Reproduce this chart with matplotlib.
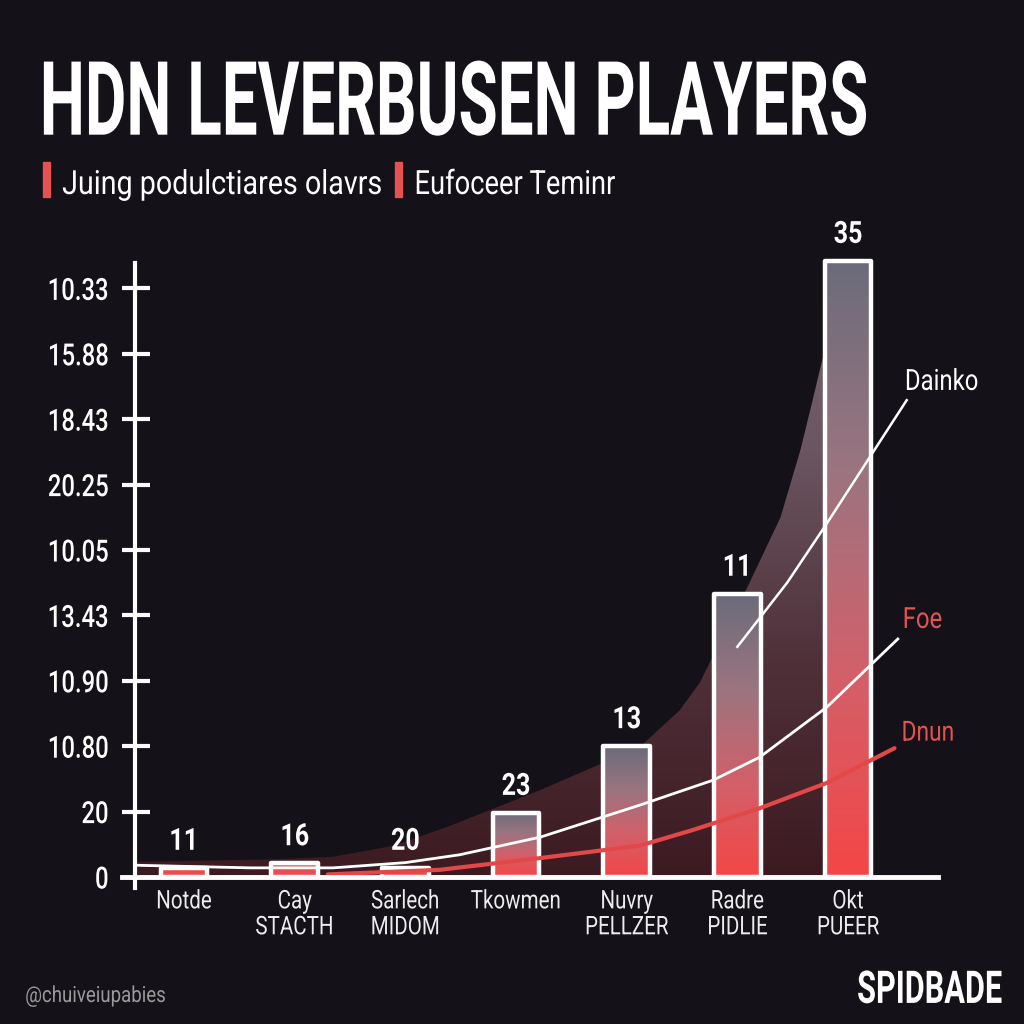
import matplotlib
matplotlib.use("Agg")
import matplotlib.pyplot as plt
import matplotlib.patheffects as pe
from matplotlib.colors import LinearSegmentedColormap
from matplotlib.patches import Rectangle
from matplotlib.transforms import Affine2D
import numpy as np

plt.rcParams['font.family'] = ['Roboto', 'DejaVu Sans']

# --- data ---
title = "HDN LEVERBUSEN PLAYERS"
subtitle_1 = "Juing podulctiares olavrs"
subtitle_2 = "Eufoceer Teminr"
categories = ["Notde", "Cay\nSTACTH", "Sarlech\nMIDOM", "Tkowmen",
              "Nuvry\nPELLZER", "Radre\nPIDLIE", "Okt\nPUEER"]
bar_heights = [0.14, 0.21, 0.14, 0.98, 2.0, 4.33, 9.42]
bar_labels = [11, 16, 20, 23, 13, 11, 35]
ytick_labels = ["0", "20", "10.80", "10.90", "13.43", "10.05",
                "20.25", "18.43", "15.88", "10.33"]

# shaded envelope behind the bars
shade_x = [-0.44, 0.14, 0.8, 1.35, 1.9, 2.4, 3.22, 4.12, 4.48, 4.66, 5.11, 5.39, 5.57, 5.68, 5.81, 6.0]
shade_y = [0.23, 0.25, 0.27, 0.31, 0.48, 0.78, 1.33, 1.99, 2.55, 2.97, 4.5, 5.5, 6.53, 7.29, 8.21, 9.2]

# three curves
foe_x = [-0.44, 0.6, 1.35, 2.0, 2.49, 3.22, 4.12, 4.78, 5.2, 5.81, 6.45]
foe_y = [0.18, 0.14, 0.14, 0.22, 0.34, 0.61, 1.1, 1.48, 1.83, 2.6, 3.64]
dnun_x = [1.3, 2.31, 3.22, 4.12, 4.6, 5.2, 5.81, 6.42]
dnun_y = [0.04, 0.11, 0.29, 0.48, 0.72, 1.05, 1.44, 1.97]
dainko_x = [5.0, 5.45, 5.81, 6.17, 6.53]
dainko_y = [3.52, 4.5, 5.41, 6.35, 7.29]

bg = '#141118'
red = '#e55252'


class Squeeze(pe.AbstractPathEffect):
    # narrows (and optionally stretches) the glyphs of a text line
    def __init__(self, sx=0.8, sy=1.0, anchor='center'):
        super().__init__()
        self.sx = sx
        self.sy = sy
        self.anchor = anchor

    def draw_path(self, renderer, gc, tpath, affine, rgbFace=None):
        ext = affine.transform_path(tpath).get_extents()
        if self.anchor == 'left':
            x0 = ext.x0
        elif self.anchor == 'right':
            x0 = ext.x1
        else:
            x0 = (ext.x0 + ext.x1) / 2
        y0 = ext.y0
        aff = affine + Affine2D().translate(-x0, -y0).scale(self.sx, self.sy).translate(x0, y0)
        renderer.draw_path(gc, tpath, aff, rgbFace)


fig = plt.figure(figsize=(10.24, 10.24), dpi=100, facecolor=bg)
ax = fig.add_axes([122/1024, 1-888/1024, 816/1024, 648/1024])
ax.set_facecolor('none')
xlim = (-0.56, 6.813)
ylim = (-0.168, 9.74)
xpos = np.arange(len(categories))

# shaded area with vertical gradient
shade_cmap = LinearSegmentedColormap.from_list('shade', ['#3d1a21', '#4f3039', '#6a5560', '#7d6b76'])
poly = ax.fill_between(shade_x, shade_y, 0, facecolor='none', edgecolor='none')
im = ax.imshow(np.linspace(0, 1, 256).reshape(-1, 1), extent=[xlim[0], xlim[1], 0, 9.74],
               origin='lower', cmap=shade_cmap, aspect='auto', zorder=1)
im.set_clip_path(poly.get_paths()[0], ax.transData)

# bars: white outline, red->grey gradient inside
bar_cmap = LinearSegmentedColormap.from_list('bar', ['#f44646', '#d2606a', '#9a7580', '#6b6b7b'])
bars = ax.bar(xpos, bar_heights, width=0.42, facecolor='none', edgecolor='white',
              linewidth=3.2, joinstyle='round', zorder=3)
for b, h in zip(bars, bar_heights):
    x0 = b.get_x()
    g = np.linspace(0, min(1.0, h), 256).reshape(-1, 1)
    bi = ax.imshow(g, extent=[x0, x0 + b.get_width(), 0, h], origin='lower',
                   cmap=bar_cmap, vmin=0, vmax=1, aspect='auto', zorder=2)
    bi.set_clip_path(b)

for x, h, lab in zip(xpos, bar_heights, bar_labels):
    ax.annotate(str(lab), (x, h), xytext=(0, 13), textcoords='offset points',
                ha='center', va='baseline', fontsize=22, weight='bold', color='white',
                path_effects=[Squeeze(0.82)])

# curves
ax.plot(foe_x, foe_y, color='white', lw=2, zorder=4)
ax.plot(dnun_x, dnun_y, color='#e34848', lw=3, zorder=4, solid_capstyle='round')
ax.plot(dainko_x, dainko_y, color='white', lw=1.8, zorder=4)
ax.text(6.51, 7.57, "Dainko", color='white', fontsize=21, va='center', ha='left',
        path_effects=[Squeeze(0.82, anchor='left')])
ax.text(6.49, 3.93, "Foe", color=red, fontsize=21, va='center', ha='left',
        path_effects=[Squeeze(0.82, anchor='left')])
ax.text(6.48, 2.2, "Dnun", color=red, fontsize=20, va='center', ha='left',
        path_effects=[Squeeze(0.82, anchor='left')])

# axes lines
ax.plot([xlim[0], xlim[1]], [0, 0], color='white', lw=3.5, zorder=5, clip_on=False)
ax.plot([-0.443, -0.443], [ylim[0], 9.39], color='white', lw=3, zorder=5, clip_on=False)
ax.hlines(range(1, 10), xlim[0], -0.307, color='white', lw=3, zorder=5)

for s in ax.spines.values():
    s.set_visible(False)
ax.set_yticks(range(10))
ax.set_yticklabels(ytick_labels)
ax.tick_params(axis='y', length=0, pad=9.4, labelsize=22, labelcolor='white')
for t in ax.get_yticklabels():
    t.set_path_effects([Squeeze(0.78, anchor='right')])
    t.set_fontweight('medium')
ax.set_xticks(xpos)
ax.set_xticklabels(categories, linespacing=1.1)
ax.tick_params(axis='x', length=0, pad=1, labelsize=18.5, labelcolor='#ececec')
for t in ax.get_xticklabels():
    t.set_path_effects([Squeeze(0.8)])
ax.set_xlim(xlim)
ax.set_ylim(ylim)

# title and subtitle
fig.text(454/1024, 1-135/1024, title, color='white', fontsize=50, weight='bold',
         va='baseline', ha='center', path_effects=[Squeeze(0.918, 1.48)])
fig.add_artist(Rectangle((43/1024, 1-197/1024), 7/1024, 35/1024, color=red))
fig.add_artist(Rectangle((395/1024, 1-197/1024), 7/1024, 35/1024, color=red))
fig.text(62/1024, 1-194/1024, subtitle_1, color='white', fontsize=24, va='baseline',
         path_effects=[Squeeze(0.86, anchor='left')])
fig.text(414/1024, 1-194/1024, subtitle_2, color='white', fontsize=24, va='baseline',
         path_effects=[Squeeze(0.82, anchor='left')])

# footer
fig.text(25/1024, 1-1002/1024, "@chuiveiupabies", color='#9a9a9a', fontsize=16, va='baseline',
         path_effects=[Squeeze(0.84, anchor='left')])
fig.text(1002/1024, 1-1003/1024, "SPIDBADE", color='white', fontsize=26, weight='bold',
         va='baseline', ha='right', path_effects=[Squeeze(0.85, 1.25, anchor='right')])

fig.savefig('out.png', dpi=100, facecolor=bg)
